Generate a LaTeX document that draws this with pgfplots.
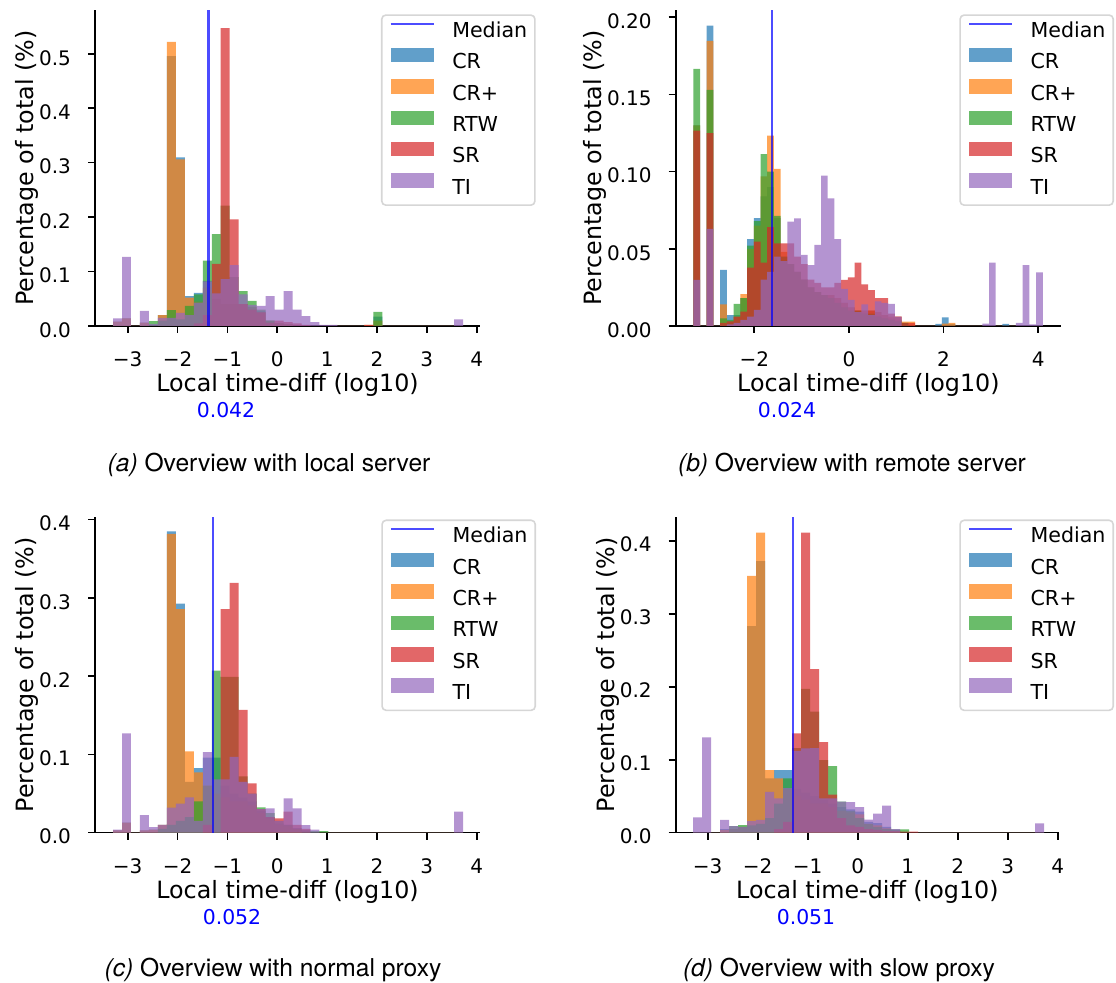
\documentclass[border=0pt]{standalone}
\usepackage{fontspec}
\setmainfont{DejaVu Sans}
\newfontfamily\capfont{TeX Gyre Heros}
\usepackage{pgfplots}
\usepackage{pgfplotstable}
\pgfplotsset{compat=1.18}

\definecolor{cCR}{HTML}{1F77B4}
\definecolor{cCRp}{HTML}{FF7F0E}
\definecolor{cRTW}{HTML}{2CA02C}
\definecolor{cSR}{HTML}{D62728}
\definecolor{cTI}{HTML}{9467BD}
\definecolor{legframe}{HTML}{D6D6D6}

% (a) local server
\pgfplotstableread{
x cr crp rtw sr ti
-3.294 0.008 0.008 0 0 0.014
-3.114 0.014 0.014 0 0 0.127
-2.934 0 0 0 0 0
-2.754 0.006 0.006 0 0 0.028
-2.574 0 0 0.009 0 0.004
-2.394 0.020 0.020 0.010 0 0.015
-2.214 0.496 0.522 0.029 0 0.015
-2.034 0.310 0.306 0.012 0 0.024
-1.854 0.055 0.052 0.037 0 0.020
-1.674 0.061 0.045 0.058 0.005 0.043
-1.494 0.083 0.070 0.120 0.020 0.082
-1.314 0.050 0.050 0.169 0.114 0.060
-1.134 0.040 0.040 0.221 0.547 0.086
-0.954 0.040 0.040 0.090 0.196 0.112
-0.774 0.040 0.040 0.064 0.040 0.058
-0.594 0.035 0.035 0.046 0.030 0.039
-0.414 0.027 0.025 0.030 0.025 0.037
-0.234 0.010 0.010 0.010 0.006 0.055
-0.054 0.005 0.005 0.005 0.010 0.030
0.126 0.003 0.003 0.003 0.007 0.064
0.306 0 0 0 0.005 0.030
0.486 0 0 0 0.002 0.018
0.666 0 0 0 0 0.007
0.846 0 0 0 0 0.002
1.026 0 0 0 0 0.002
1.206 0 0 0 0 0
1.386 0 0 0 0 0
1.566 0 0 0 0 0
1.746 0 0.002 0 0.002 0
1.926 0.017 0.010 0.026 0 0
2.106 0 0 0 0 0
2.286 0 0 0 0 0
2.466 0 0 0 0 0
2.646 0 0 0 0 0
2.826 0 0 0 0 0
3.006 0 0 0 0 0
3.186 0 0 0 0 0
3.366 0 0 0 0 0
3.546 0 0 0 0 0.012
3.726 0 0 0 0 0
}\tA

% (b) remote server
\pgfplotstableread{
x cr crp rtw sr ti
-3.288 0.130 0.130 0.1665 0.1266 0.0298
-3.146 0 0 0 0 0
-3.004 0.1946 0.1847 0.153 0.125 0.0629
-2.862 0 0 0 0 0
-2.720 0.0363 0.014 0.005 0.002 0
-2.578 0.007 0.003 0.004 0.003 0.001
-2.436 0.007 0.006 0.0143 0.006 0.002
-2.294 0.018 0.0207 0.018 0.0093 0.004
-2.152 0.0562 0.050 0.052 0.0378 0.006
-2.010 0.0698 0.065 0.068 0.0546 0.0104
-1.868 0.084 0.097 0.1114 0.041 0.030
-1.726 0.090 0.1233 0.100 0.064 0.035
-1.584 0.070 0.1017 0.0713 0.0535 0.045
-1.442 0.045 0.048 0.045 0.0535 0.042
-1.300 0.040 0.040 0.040 0.0535 0.0676
-1.158 0.035 0.035 0.035 0.045 0.0697
-1.016 0.030 0.030 0.030 0.040 0.046
-0.874 0.025 0.025 0.025 0.030 0.0395
-0.732 0.022 0.022 0.022 0.028 0.0525
-0.590 0.020 0.020 0.020 0.025 0.0974
-0.448 0.020 0.020 0.018 0.025 0.0827
-0.306 0.018 0.018 0.015 0.028 0.0562
-0.164 0.015 0.015 0.012 0.0298 0.024
-0.022 0.012 0.012 0.010 0.0315 0.017
0.120 0.010 0.010 0.010 0.041 0.009
0.262 0.010 0.010 0.008 0.027 0.014
0.404 0.010 0.010 0.008 0.0233 0.007
0.546 0.009 0.009 0.006 0.018 0.016
0.688 0.007 0.007 0.005 0.018 0.015
0.830 0.005 0.006 0.004 0.008 0.0143
0.972 0.004 0.006 0.003 0.006 0.006
1.114 0.002 0.0028 0.002 0.002 0
1.256 0 0.0028 0 0.002 0
1.398 0 0 0 0 0
1.540 0 0 0 0 0
1.682 0 0 0 0 0
1.824 0.0013 0 0 0 0
1.966 0.0056 0.0015 0 0 0
2.108 0.0013 0.002 0 0 0
2.250 0 0 0 0 0
2.392 0 0 0 0 0
2.534 0 0 0 0 0
2.676 0 0 0 0 0
2.818 0 0 0 0 0.0015
2.960 0 0 0 0 0.041
3.102 0 0 0 0 0
3.244 0.0013 0 0 0 0
3.386 0 0 0 0 0
3.528 0 0 0 0 0.002
3.670 0 0 0 0 0.0395
3.812 0 0 0 0 0.001
3.954 0 0 0 0 0.0348
4.096 0 0 0 0 0
}\tB

% (c) normal proxy
\pgfplotstableread{
x cr crp rtw sr ti
-3.294 0.003 0.003 0 0 0.004
-3.114 0.013 0.013 0 0 0.127
-2.934 0 0 0 0 0
-2.754 0.003 0.003 0 0 0.0226
-2.574 0.004 0.004 0 0 0.007
-2.394 0.010 0.010 0.005 0 0.010
-2.214 0.385 0.3816 0.010 0 0.032
-2.034 0.2927 0.2855 0.015 0 0.037
-1.854 0.065 0.104 0.020 0 0.045
-1.674 0.0825 0.077 0.040 0 0.015
-1.494 0.096 0.060 0.060 0.010 0.103
-1.314 0.096 0.050 0.207 0 0.068
-1.134 0.060 0.045 0.199 0.2855 0.068
-0.954 0.050 0.040 0.199 0.319 0.097
-0.774 0.045 0.040 0.072 0.157 0.065
-0.594 0.040 0.035 0.050 0.063 0.050
-0.414 0.028 0.025 0.0324 0.030 0.030
-0.234 0.020 0.018 0.025 0.020 0.031
-0.054 0.012 0.010 0.015 0.0183 0.015
0.126 0.010 0.008 0.010 0.027 0.0438
0.306 0.006 0.005 0.005 0.010 0.031
0.486 0.003 0 0.003 0.005 0.0098
0.666 0 0 0.002 0 0.004
0.846 0 0 0.002 0 0
1.026 0 0 0 0 0
1.206 0 0 0 0 0
1.386 0 0 0 0 0
1.566 0 0 0 0 0
1.746 0 0 0 0 0
1.926 0 0 0 0 0
2.106 0 0 0 0 0
2.286 0 0 0 0 0
2.466 0 0 0 0 0
2.646 0 0 0 0 0
2.826 0 0 0 0 0
3.006 0 0 0 0 0
3.186 0 0 0 0 0
3.366 0 0 0 0 0
3.546 0 0 0 0 0.0268
3.726 0 0 0 0 0
}\tC

% (d) slow proxy
\pgfplotstableread{
x cr crp rtw sr ti
-3.294 0 0 0 0 0.021
-3.114 0 0 0 0 0.1306
-2.934 0 0 0 0 0
-2.754 0.005 0.004 0 0 0.0174
-2.574 0.005 0.005 0.009 0 0.009
-2.394 0.008 0.008 0.0105 0 0.008
-2.214 0.283 0.352 0.010 0 0.016
-2.034 0.372 0.411 0.012 0 0.0174
-1.854 0.0744 0.0858 0.020 0 0.056
-1.674 0.0858 0.0744 0.040 0.005 0.047
-1.494 0.0858 0.060 0.0744 0.015 0.061
-1.314 0.060 0.050 0.116 0.136 0.112
-1.134 0.055 0.045 0.197 0.411 0.1155
-0.954 0.050 0.040 0.166 0.224 0.116
-0.774 0.045 0.040 0.0995 0.124 0.047
-0.594 0.040 0.035 0.0913 0.052 0.047
-0.414 0.035 0.030 0.0425 0.020 0.0425
-0.234 0.032 0.028 0.030 0.010 0.042
-0.054 0.029 0.025 0.020 0.008 0.035
0.126 0.015 0.012 0.012 0.005 0.018
0.306 0.013 0.010 0.008 0.004 0.026
0.486 0.008 0.006 0.005 0.002 0.037
0.666 0.004 0.003 0.0046 0.002 0.005
0.846 0 0 0.0046 0.0014 0
1.026 0 0 0 0.0014 0
1.206 0 0 0 0 0
1.386 0 0 0 0 0
1.566 0 0 0 0 0
1.746 0 0 0 0 0
1.926 0 0 0 0 0
2.106 0 0 0 0 0
2.286 0 0 0 0 0
2.466 0 0 0 0 0
2.646 0 0 0 0 0
2.826 0 0 0 0 0
3.006 0 0 0 0 0
3.186 0 0 0 0 0
3.366 0 0 0 0 0
3.546 0 0 0 0 0.0128
3.726 0 0 0 0 0
}\tD

\pgfplotsset{
  hist/.style={const plot, draw=none, fill=#1, fill opacity=0.7,
    legend image code/.code={\fill[fill=#1, fill opacity=0.7, sharp corners] (0pt,0.4pt) rectangle (21.5pt,7.6pt);}},
  medline/.style={color=blue, draw opacity=0.7, line width=1.2pt,
    legend image code/.code={\draw[blue, draw opacity=0.7, line width=1.2pt, sharp corners] (0pt,4pt) -- (21.5pt,4pt);}},
  panel/.style={
    scale only axis,
    anchor=south west,
    height=158pt,
    axis lines*=left,
    axis line style={-, line width=0.8pt, black},
    tick align=outside,
    major tick length=3.5pt,
    tick style={black, line width=0.8pt},
    ymin=0,
    scaled ticks=false,
    xticklabel style={font=\fontsize{10}{12}\selectfont, anchor=base, inner sep=0pt, yshift=-16.65pt},
    yticklabel style={font=\fontsize{10}{12}\selectfont, anchor=base east, inner sep=0pt, xshift=-8.35pt, yshift=-5.6pt},
    legend cell align=left,
    legend style={anchor=north east, draw=legframe, line width=0.8pt, rounded corners=2pt, fill=white,
      font=\fontsize{10.3}{12}\selectfont, inner xsep=3.85pt, inner ysep=3.6pt,
      row sep=3.35pt, column sep=8.7pt,
      nodes={inner sep=0pt, text height=7.6pt, text depth=1.85pt}},
  },
}

\newcommand{\bars}[1]{%
  \addlegendimage{medline}\addlegendentry{Median}
  \addplot[hist=cCR]  table[x=x,y=cr]{#1} \closedcycle; \addlegendentry{CR}
  \addplot[hist=cCRp] table[x=x,y=crp]{#1} \closedcycle; \addlegendentry{CR+}
  \addplot[hist=cRTW] table[x=x,y=rtw]{#1} \closedcycle; \addlegendentry{RTW}
  \addplot[hist=cSR]  table[x=x,y=sr]{#1} \closedcycle; \addlegendentry{SR}
  \addplot[hist=cTI]  table[x=x,y=ti]{#1} \closedcycle; \addlegendentry{TI}
}

\begin{document}
\begin{tikzpicture}
\path[use as bounding box] (0pt,0pt) rectangle (558pt,491pt);

% (a)
\begin{axis}[panel, at={(47.5pt,328pt)}, width=192.5pt,
  xmin=-3.656, xmax=4.066, ymax=0.5805,
  xtick={-3,-2,-1,0,1,2,3,4}, xticklabels={−3,−2,−1,0,1,2,3,4},
  ytick={0,0.1,0.2,0.3,0.4,0.5}, yticklabels={0.0,0.1,0.2,0.3,0.4,0.5},
  legend style={at={(1.1447,0.9864)}}]
\bars{\tA}
\addplot[medline, forget plot] coordinates {(-1.3768,0) (-1.3768,0.5805)};
\end{axis}

% (b)
\begin{axis}[panel, at={(337.85pt,328pt)}, width=192.65pt,
  xmin=-3.66, xmax=4.481, ymax=0.2047,
  xtick={-2,0,2,4}, xticklabels={−2,0,2,4},
  ytick={0,0.05,0.1,0.15,0.2}, yticklabels={0.00,0.05,0.10,0.15,0.20},
  legend style={at={(1.1376,0.9864)}}]
\bars{\tB}
\addplot[medline, forget plot] coordinates {(-1.6198,0) (-1.6198,0.2047)};
\end{axis}

% (c)
\begin{axis}[panel, at={(47.5pt,74.65pt)}, width=192.5pt,
  xmin=-3.656, xmax=4.066, ymax=0.4036,
  xtick={-3,-2,-1,0,1,2,3,4}, xticklabels={−3,−2,−1,0,1,2,3,4},
  ytick={0,0.1,0.2,0.3,0.4}, yticklabels={0.0,0.1,0.2,0.3,0.4},
  legend style={at={(1.1455,0.9912)}}]
\bars{\tC}
\addplot[medline, forget plot] coordinates {(-1.284,0) (-1.284,0.4036)};
\end{axis}

% (d)
\begin{axis}[panel, at={(337.85pt,74.65pt)}, width=191.65pt,
  xmin=-3.64, xmax=4.026, ymax=0.4329,
  xtick={-3,-2,-1,0,1,2,3,4}, xticklabels={−3,−2,−1,0,1,2,3,4},
  ytick={0,0.1,0.2,0.3,0.4}, yticklabels={0.0,0.1,0.2,0.3,0.4},
  legend style={at={(1.1435,0.9912)}}]
\bars{\tD}
\addplot[medline, forget plot] coordinates {(-1.2924,0) (-1.2924,0.4329)};
\end{axis}

% axis labels
\foreach \xx/\yy in {143.75pt/295.15pt, 434.2pt/295.15pt, 143.75pt/41.8pt, 433.7pt/41.8pt}
  \node[anchor=base, font=\fontsize{11.9}{14}\selectfont, inner sep=0pt] at (\xx,\yy) {Local time-diff (log10)};
\foreach \xx/\yy in {16.75pt/407pt, 300.75pt/407pt, 16.75pt/153.65pt, 307.1pt/153.65pt}
  \node[anchor=base, rotate=90, font=\fontsize{11.9}{14}\selectfont, inner sep=0pt] at (\xx,\yy) {Percentage of total (\%)};

% median values
\node[anchor=base, text=blue, font=\fontsize{10.2}{12}\selectfont, inner sep=0pt] at (113pt,282.35pt) {0.042};
\node[anchor=base, text=blue, font=\fontsize{10.2}{12}\selectfont, inner sep=0pt] at (393.5pt,282.35pt) {0.024};
\node[anchor=base, text=blue, font=\fontsize{10.2}{12}\selectfont, inner sep=0pt] at (116pt,29pt) {0.052};
\node[anchor=base, text=blue, font=\fontsize{10.2}{12}\selectfont, inner sep=0pt] at (403pt,29pt) {0.051};

% captions
\node[anchor=base, font=\capfont\fontsize{12.3}{15}\selectfont, inner sep=0pt] at (134.5pt,255.15pt) {\textit{(a)} Overview with local server};
\node[anchor=base, font=\capfont\fontsize{12.3}{15}\selectfont, inner sep=0pt] at (426pt,255.15pt) {\textit{(b)} Overview with remote server};
\node[anchor=base, font=\capfont\fontsize{12.3}{15}\selectfont, inner sep=0pt] at (136.5pt,2.5pt) {\textit{(c)} Overview with normal proxy};
\node[anchor=base, font=\capfont\fontsize{12.3}{15}\selectfont, inner sep=0pt] at (419.5pt,2.5pt) {\textit{(d)} Overview with slow proxy};
\end{tikzpicture}
\end{document}
